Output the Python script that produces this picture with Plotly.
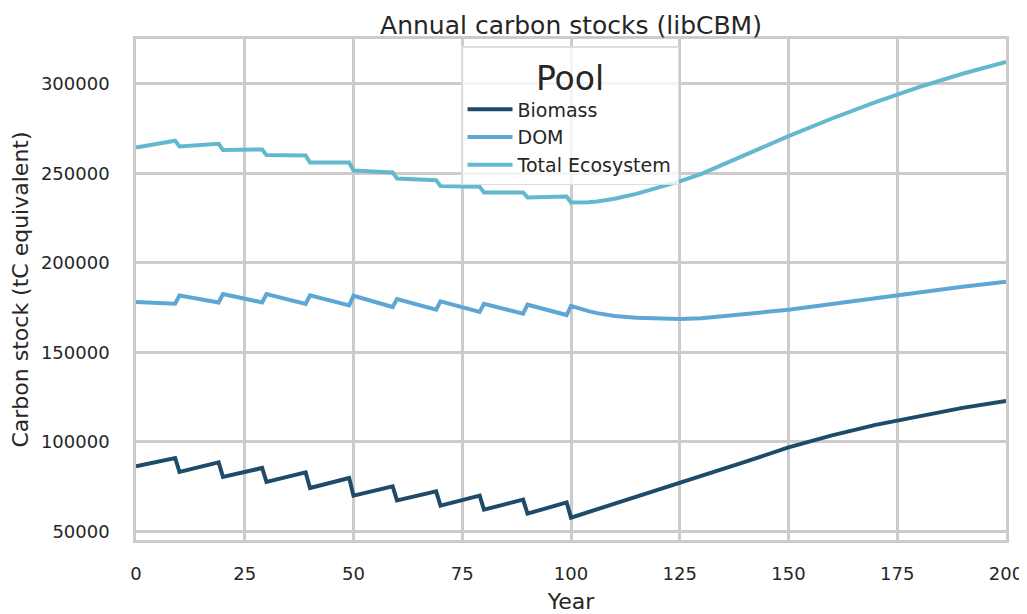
import plotly.graph_objects as go

# Years at which values were read (harvest cycle vertices, then smooth growth)
years = [0, 9, 10, 19, 20, 29, 30, 39, 40, 49, 50, 59, 60, 69, 70, 79, 80, 89, 90, 99, 100,
         102, 104, 106, 108, 110, 115, 120, 125, 130, 140, 150, 160, 170, 180, 190, 200]

biomass = [86320, 91010, 83190, 88550, 80400, 85430, 77610, 82970, 74260, 79840, 69960,
           75150, 67340, 72360, 64380, 69960, 62140, 67730, 59910, 66200, 57700,
           59250, 60800, 62350, 63900, 65450, 69200, 72900, 76800, 80700, 88800, 96930,
           103600, 109500, 114500, 119000, 122800]

dom = [178110, 177160, 181800, 177890, 182580, 177890, 182580, 177000, 181800, 176220, 181630,
       175320, 179790, 173810, 178450, 172530, 177160, 171580, 176610, 170850, 175930,
       174300, 173000, 171900, 171000, 170300, 169300, 168800, 168650, 169000, 171400, 173810,
       177000, 180300, 183600, 186600, 189400]

total = [264430, 268170, 264990, 266440, 262980, 263320, 260190, 259970, 256060, 256060, 251590,
         250470, 247130, 246170, 242830, 242490, 239300, 239310, 236520, 237050, 233630,
         233550, 233800, 234250, 234900, 235750, 238500, 241700, 245450, 249700, 260200, 270740,
         280600, 289800, 298100, 305600, 312200]

series_names = ["Biomass", "DOM", "Total Ecosystem"]
series_values = [biomass, dom, total]
colors = ["#1e4b69", "#5ea7d4", "#63b8ce"]

x_ticks = [0, 25, 50, 75, 100, 125, 150, 175, 200]
y_ticks = [50000, 100000, 150000, 200000, 250000, 300000]

FONT = "DejaVu Sans"
TXT = "#262626"
GRID = "#cccccc"

# the page body has an 8px default margin, so the figure is sized to fit inside the window
W, H = 1019, 606

fig = go.Figure()
for name, vals, col in zip(series_names, series_values, colors):
    fig.add_trace(go.Scatter(x=years, y=vals, mode="lines", name=name,
                             line=dict(color=col, width=4)))

fig.update_layout(
    width=W, height=H,
    margin=dict(l=128, r=21, t=31, b=74, autoexpand=False),
    paper_bgcolor="white", plot_bgcolor="white",
    font=dict(family=FONT, color=TXT, size=18),
    title=dict(text="Annual carbon stocks (libCBM)", x=0.5, xanchor="center", xref="paper",
               y=1.0, yanchor="bottom", yref="paper", pad=dict(t=0, b=5),
               font=dict(size=25, color=TXT, family=FONT)),
    legend=dict(
        x=0.3736, y=0.986, xanchor="left", yanchor="top",
        bgcolor="rgba(255,255,255,0.8)", bordercolor="#dddddd", borderwidth=1.5,
        font=dict(size=19, color=TXT, family=FONT),
        title=dict(text="Pool", side="top center", font=dict(size=33, color=TXT, family=FONT)),
        itemwidth=45, tracegroupgap=0,
    ),
    showlegend=True,
)

fig.update_xaxes(
    range=[0, 200], tickvals=x_ticks, ticktext=[str(v) for v in x_ticks],
    showgrid=True, gridcolor=GRID, gridwidth=2.5,
    showline=True, linecolor=GRID, linewidth=2.5, mirror=True,
    zeroline=False, ticks="", ticklabelstandoff=16, automargin=False,
    tickfont=dict(size=18, color=TXT, family=FONT),
    title=dict(text="Year", font=dict(size=22, color=TXT, family=FONT), standoff=12),
)
fig.update_yaxes(
    range=[45200, 325000], tickvals=y_ticks, ticktext=[str(v) for v in y_ticks],
    showgrid=True, gridcolor=GRID, gridwidth=2.5,
    showline=True, linecolor=GRID, linewidth=2.5, mirror=True,
    zeroline=False, ticks="", ticklabelstandoff=20, automargin=False,
    tickfont=dict(size=18, color=TXT, family=FONT),
    title=dict(text="Carbon stock (tC equivalent)", font=dict(size=22, color=TXT, family=FONT), standoff=12),
)

fig.write_html("out.html")
